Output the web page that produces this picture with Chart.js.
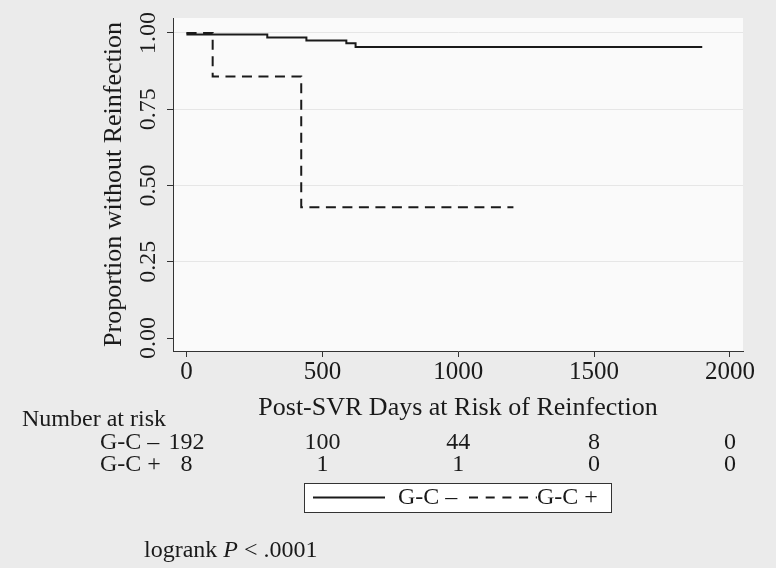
<!DOCTYPE html>
<html><head><meta charset="utf-8">
<script src="https://cdn.jsdelivr.net/npm/chart.js@4.4.0/dist/chart.umd.min.js"></script>
<style>html,body{margin:0;padding:0;background:#ebebeb;overflow:hidden;}</style>
</head><body>
<canvas id="c" width="776" height="568"></canvas>
<script>
// ---- data ----
const xTicks = [0, 500, 1000, 1500, 2000];
const yTicks = [0, 0.25, 0.5, 0.75, 1];
const negTimes = [0, 3, 297, 441, 588, 622, 1898];
const negSurv  = [1, 0.995, 0.985, 0.975, 0.966, 0.954, 0.954];
const posTimes = [0, 96, 422, 1203];
const posSurv  = [1, 0.857, 0.429, 0.429];
const seriesNames = ['G-C \u2013', 'G-C +'];
const riskTitle = 'Number at risk';
const riskNeg = [192, 100, 44, 8, 0];
const riskPos = [8, 1, 1, 0, 0];
const xTitle = 'Post-SVR Days at Risk of Reinfection';
const yTitle = 'Proportion without Reinfection';

const FONT = '"Liberation Serif", "Times New Roman", serif';
const INK = '#1a1a1a';

const bgPlugin = {
  id: 'bg',
  beforeDraw(chart) {
    const {ctx, chartArea: a} = chart;
    ctx.save();
    ctx.fillStyle = '#ebebeb';
    ctx.fillRect(0, 0, chart.width, chart.height);
    ctx.fillStyle = '#fafafa';
    ctx.fillRect(a.left, a.top, a.right - a.left, a.bottom - a.top);
    ctx.restore();
  }
};

const extrasPlugin = {
  id: 'extras',
  afterDraw(chart) {
    const {ctx} = chart;
    const xs = chart.scales.x;
    ctx.save();
    ctx.fillStyle = INK;
    ctx.font = '24px ' + FONT;
    ctx.textBaseline = 'middle';
    // risk table
    ctx.textAlign = 'left';
    ctx.fillText(riskTitle, 22, 420);
    ctx.fillText(seriesNames[0], 100, 443);
    ctx.fillText(seriesNames[1], 100, 465);
    ctx.textAlign = 'center';
    xTicks.forEach((t, i) => {
      const px = xs.getPixelForValue(t);
      ctx.fillText(String(riskNeg[i]), px, 443);
      ctx.fillText(String(riskPos[i]), px, 465);
    });
    // legend box
    ctx.fillStyle = '#ffffff';
    ctx.fillRect(304.5, 483.5, 307, 29);
    ctx.strokeStyle = '#333';
    ctx.lineWidth = 1;
    ctx.strokeRect(304.5, 483.5, 307, 29);
    ctx.strokeStyle = INK;
    ctx.lineWidth = 2;
    ctx.beginPath(); ctx.moveTo(313, 497.5); ctx.lineTo(385, 497.5); ctx.stroke();
    ctx.setLineDash([9, 7.7]);
    ctx.beginPath(); ctx.moveTo(469, 497.5); ctx.lineTo(537, 497.5); ctx.stroke();
    ctx.setLineDash([]);
    ctx.fillStyle = INK;
    ctx.textAlign = 'left';
    ctx.fillText(seriesNames[0], 398, 498);
    ctx.fillText(seriesNames[1], 537, 498);
    // logrank
    let x = 144;
    const y = 551;
    ctx.font = '24px ' + FONT;
    ctx.fillText('logrank ', x, y); x += ctx.measureText('logrank ').width;
    ctx.font = 'italic 24px ' + FONT;
    ctx.fillText('P', x, y); x += ctx.measureText('P').width;
    ctx.font = '24px ' + FONT;
    ctx.fillText(' < .0001', x, y);
    ctx.restore();
  }
};

new Chart(document.getElementById('c'), {
  type: 'scatter',
  data: {
    datasets: [
      {
        label: seriesNames[0],
        data: negTimes.map((t, i) => ({x: t, y: negSurv[i]})),
        showLine: true, stepped: 'before',
        borderColor: INK, borderWidth: 2, pointRadius: 0, fill: false
      },
      {
        label: seriesNames[1],
        data: posTimes.map((t, i) => ({x: t, y: posSurv[i]})),
        showLine: true, stepped: 'before',
        borderColor: INK, borderWidth: 2, borderDash: [10, 6.5], pointRadius: 0, fill: false
      }
    ]
  },
  options: {
    responsive: false,
    animation: false,
    devicePixelRatio: 1,
    layout: {padding: {left: 0, right: 33, top: 18, bottom: 144.4}},
    plugins: {legend: {display: false}, tooltip: {enabled: false}, title: {display: false}},
    scales: {
      x: {
        type: 'linear', min: -50, max: 2048,
        afterBuildTicks: s => { s.ticks = xTicks.map(v => ({value: v})); },
        afterFit: s => { s.height = 72.6; },
        grid: {drawOnChartArea: false, drawTicks: true, tickLength: 6, tickColor: '#333'},
        border: {display: true, color: '#333', width: 1},
        ticks: {autoSkip: false, maxRotation: 0, padding: 0, color: INK,
                font: {family: FONT, size: 25, lineHeight: 1.2},
                callback: v => String(v)},
        title: {display: true, text: xTitle, color: INK, padding: {top: 0, bottom: 0},
                font: {family: FONT, size: 26, lineHeight: 1.2}}
      },
      y: {
        type: 'linear', min: -0.0426, max: 1.049,
        afterBuildTicks: s => { s.ticks = yTicks.map(v => ({value: v})); },
        afterFit: s => { s.width = 173; },
        grid: {drawOnChartArea: true, drawTicks: true, tickLength: 6, tickColor: '#333',
               color: c => (c.tick && c.tick.value === 0) ? 'rgba(0,0,0,0)' : '#e6e6e6', lineWidth: 1},
        border: {display: true, color: '#333', width: 1},
        ticks: {autoSkip: false, minRotation: 90, maxRotation: 90, crossAlign: 'center', padding: -3,
                color: INK, font: {family: FONT, size: 24, lineHeight: 1.2},
                callback: v => Number(v).toFixed(2)},
        title: {display: true, text: yTitle, color: INK, padding: {top: 99, bottom: 0},
                font: {family: FONT, size: 26, lineHeight: 1.2}}
      }
    }
  },
  plugins: [bgPlugin, extrasPlugin]
});
</script>
</body></html>
